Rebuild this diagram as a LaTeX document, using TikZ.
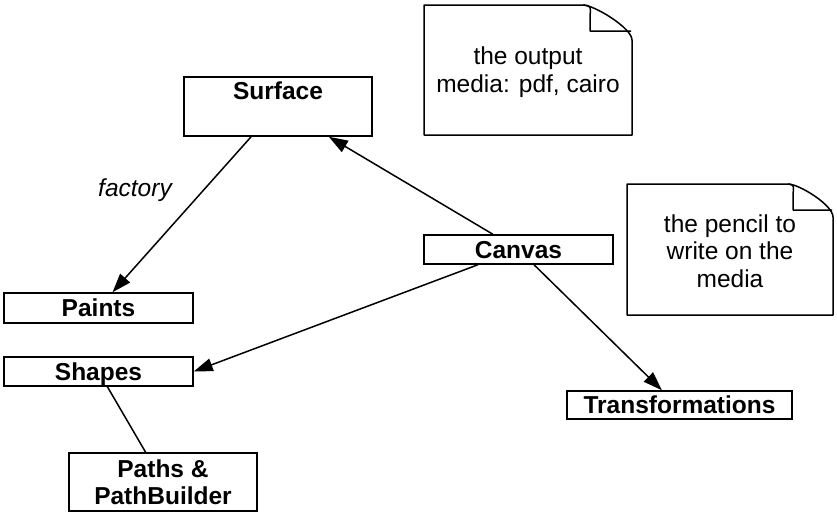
\documentclass[tikz,border=0pt]{standalone}
\usepackage{fontspec}
\setmainfont{Liberation Sans}
\usetikzlibrary{arrows.meta}
\begin{document}
\begin{tikzpicture}[x=1pt,y=-1pt,
  box/.style={draw, line width=1.5pt, inner sep=0pt, font=\fontsize{24.5}{27}\selectfont\bfseries, text height=17pt, text depth=0pt},
  mbox/.style={draw, line width=1.5pt, inner sep=0pt, font=\fontsize{24.5}{27}\selectfont\bfseries, align=center},
  conn/.style={line width=1.5pt},
  arr/.style={conn, -{Triangle[length=19pt,width=13pt]}},
  note/.style={line width=1.5pt, line join=round},
  notetext/.style={font=\fontsize{24.5}{27.5}\selectfont, align=center, inner sep=0pt}]
\useasboundingbox (0,0) rectangle (837,514);
% boxes
\node[box, minimum width=188pt, minimum height=59pt, text height=22pt, text depth=37pt] (surface) at (278,106.5) {Surface};
\node[box, minimum width=189pt, minimum height=30pt] (paints) at (98.5,308) {Paints};
\node[box, minimum width=189pt, minimum height=29pt] (shapes) at (98.5,371.5) {Shapes};
\node[mbox, minimum width=188pt, minimum height=58pt] (paths) at (163,482) {Paths \&\\PathBuilder};
\node[box, minimum width=189pt, minimum height=29pt] (canvas) at (518.5,249.5) {Canvas};
\node[box, minimum width=225pt, minimum height=28pt] (transf) at (679.5,405) {Transformations};
% notes
\draw[note] (424,5) -- (583,5) .. controls (594,5) and (632,28) .. (632,40) -- (632,135) -- (424,135) -- cycle;
\draw[note] (583,5) .. controls (591,6) .. (590,16) -- (590,31) -- (631,31);
\node[notetext] (note1) at (528,72) {the output\\media: pdf, cairo};
\draw[note] (627,184) -- (788,184) .. controls (799,184) and (833,205) .. (833,217) -- (833,315) -- (627,315) -- cycle;
\draw[note] (788,184) .. controls (794,185) .. (793,194) -- (793,210) -- (832,210);
\node[notetext] (note2) at (730,251) {the pencil to\\write on the\\media};
% connectors
\draw[arr] (canvas) -- (surface);
\draw[arr] (surface) -- (paints);
\node[font=\fontsize{24.5}{27}\selectfont\itshape, inner sep=0pt] (factory) at (135,190) {factory};
\draw[arr] (canvas) -- (shapes.east);
\draw[conn] (shapes) -- (paths);
\draw[arr] (canvas) -- (transf.140);
\end{tikzpicture}
\end{document}
